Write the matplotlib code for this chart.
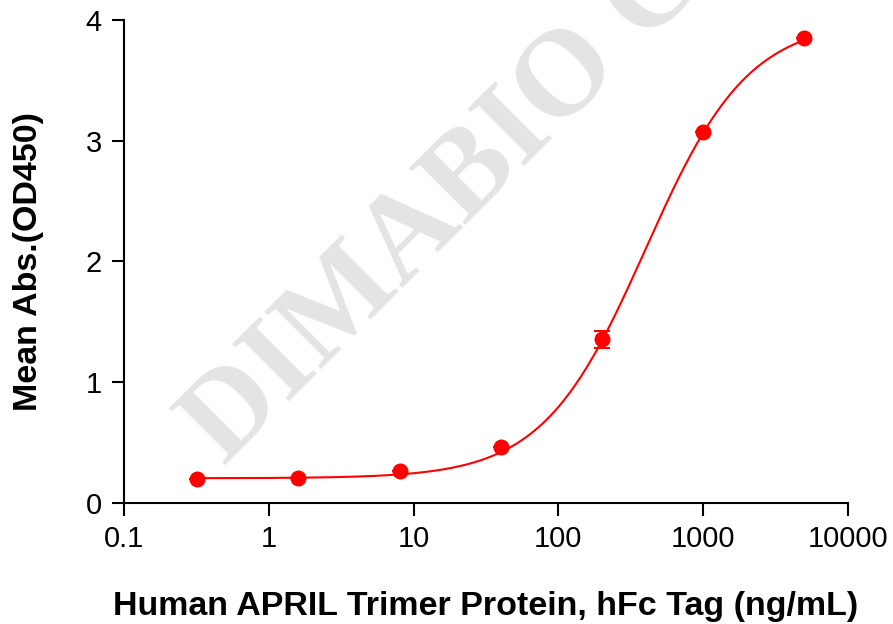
import numpy as np
import matplotlib
matplotlib.use("Agg")
from matplotlib import pyplot as plt

plt.rcParams['font.family'] = ['Liberation Sans', 'DejaVu Sans']

# concentration (ng/mL) and mean OD450
conc = [0.32, 1.6, 8, 40, 200, 1000, 5000]
od450 = [0.20, 0.21, 0.265, 0.465, 1.355, 3.07, 3.85]
od_err = [0.0, 0.0, 0.0, 0.0, 0.07, 0.0, 0.0]

# 4PL fit parameters (bottom, top, EC50, hill)
fit_bottom = 0.205
fit_top = 4.0
fit_ec50 = 400.0
fit_hill = 1.22

xticks = [0.1, 1, 10, 100, 1000, 10000]
xticklabels = ["0.1", "1", "10", "100", "1000", "10000"]
yticks = [0, 1, 2, 3, 4]

red = "#ff0000"

fig = plt.figure(figsize=(8.93, 6.24), dpi=100)
ax = fig.add_axes([0.1389, 0.1939, 0.8107, 0.7741])

# watermark
fig.text(0.251, 0.252, "DIMABIO CO", rotation=45, rotation_mode='anchor',
         ha='left', va='baseline', fontsize=88, fontweight='bold',
         family='Liberation Serif', color='#e4e4e4', zorder=0)
ax.patch.set_alpha(0)

xs = np.logspace(np.log10(conc[0]), np.log10(conc[-1]), 300)
ys = fit_bottom + (fit_top - fit_bottom) / (1 + (fit_ec50 / xs) ** fit_hill)
ax.plot(xs, ys, color=red, linewidth=1.5, zorder=3)
ax.errorbar(conc, od450, yerr=od_err, fmt='o', color=red, markersize=10.5,
            elinewidth=1.5, capsize=6, capthick=1.5, zorder=4)

ax.set_xscale('log')
ax.set_xlim(0.1, 10000)
ax.set_ylim(0, 4)
ax.set_xticks(xticks)
ax.set_xticklabels(xticklabels)
ax.xaxis.set_minor_locator(matplotlib.ticker.NullLocator())
ax.set_yticks(yticks)

for s in ['top', 'right']:
    ax.spines[s].set_visible(False)
for s in ['left', 'bottom']:
    ax.spines[s].set_linewidth(1.5)
ax.tick_params(axis='both', width=1.5, length=9, labelsize=21, pad=7)

ax.set_xlabel("Human APRIL Trimer Protein, hFc Tag (ng/mL)", fontsize=24.5,
              fontweight='bold', labelpad=27)
ax.set_ylabel("Mean Abs.(OD450)", fontsize=24.5, fontweight='bold', labelpad=30)

plt.savefig("out.png", dpi=100)
